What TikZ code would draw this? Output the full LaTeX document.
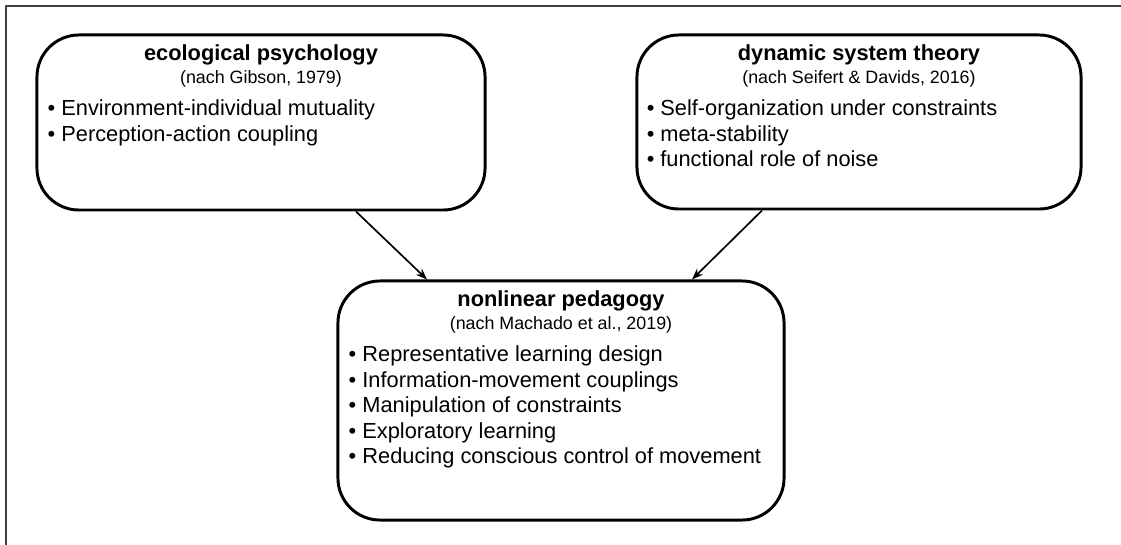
\documentclass[tikz,border=0pt]{standalone}
\usepackage{fontspec}
\setmainfont{Liberation Sans}
\usetikzlibrary{calc,arrows.meta}
\begin{document}
\begin{tikzpicture}[x=0.025cm, y=-0.025cm, line join=round, >={Stealth[length=8pt,width=6pt]},
		box/.style={draw, line width=2.1pt, rounded corners=1.05cm, inner sep=0pt},
		ttl/.style={font=\fontsize{15.5}{18}\selectfont\bfseries, inner sep=0pt, anchor=base},
		src/.style={font=\fontsize{12.7}{15}\selectfont, inner sep=0pt, anchor=base},
		item/.style={font=\fontsize{15.5}{18}\selectfont, inner sep=0pt, anchor=base west},
		arr/.style={->, line width=1.2pt}]
		\def\dy{25.6}
		\useasboundingbox (0,0) rectangle (1121,545);
		\draw[black!75, line width=1pt] (6,545)--(6,6)--(1121,6);
		\node[box, minimum width=11.2cm, minimum height=4.375cm] (eco) at (261,122.5) {};
		\node[box, minimum width=11.1cm, minimum height=4.35cm] (dst) at (859,122) {};
		\node[box, minimum width=11.15cm, minimum height=5.975cm] (ped) at (561,400.5) {};
		\node[ttl] (ecoT) at ($(eco.north)+(0,27)$) {ecological psychology};
		\node[src] (ecoS) at ($(eco.north)+(0,50)$) {(nach Gibson, 1979)};
		\node[ttl] (dstT) at ($(dst.north)+(0,27)$) {dynamic system theory};
		\node[src] (dstS) at ($(dst.north)+(0,50)$) {(nach Seifert \& Davids, 2016)};
		\node[ttl] (pedT) at ($(ped.north)+(0,27)$) {nonlinear pedagogy};
		\node[src] (pedS) at ($(ped.north)+(0,50)$) {(nach Machado et al., 2019)};
		\foreach \t [count=\i] in {Environment-individual mutuality, Perception-action coupling}
		\node[item] (eco\i) at ($(eco.north west)+(12,{82+\dy*(\i-1)})$) {\textbullet\ \t};
		\foreach \t [count=\i] in {Self-organization under constraints, meta-stability, functional role of noise}
		\node[item] (dst\i) at ($(dst.north west)+(11,{82+\dy*(\i-1)})$) {\textbullet\ \t};
		\foreach \t [count=\i] in {Representative learning design, Information-movement couplings, Manipulation of constraints, Exploratory learning, Reducing conscious control of movement}
		\node[item] (ped\i) at ($(ped.north west)+(12,{82+\dy*(\i-1)})$) {\textbullet\ \t};
		\draw[arr] ($(eco.south)+(95,0)$) -- ($(ped.north)+(-134,0)$);
		\draw[arr] ($(dst.south)+(-97,0)$) -- ($(ped.north)+(131,0)$);
\end{tikzpicture}
\end{document}
